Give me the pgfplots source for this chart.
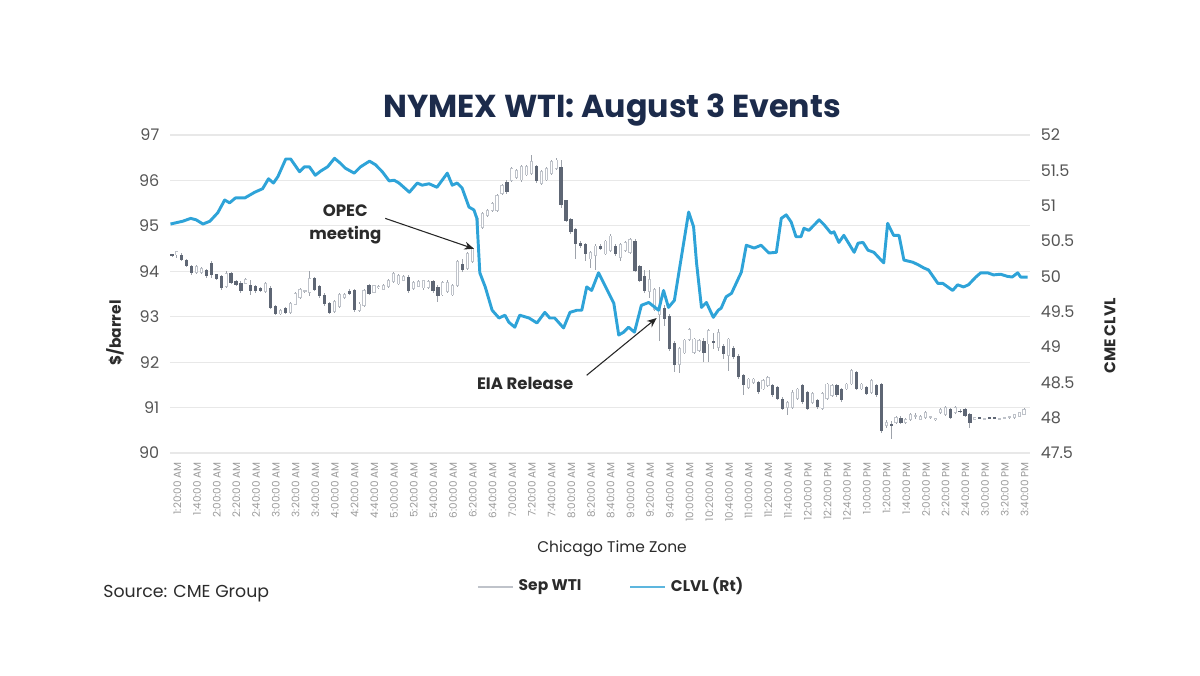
\documentclass[border=0pt]{standalone}
\usepackage{fontspec}
\setmainfont{Poppins}
\usepackage{pgfplots}
\pgfplotsset{compat=1.18}
\usepackage{pgfplotstable}
\usetikzlibrary{arrows.meta}

\definecolor{gridc}{HTML}{E8E8E8}
\definecolor{blueline}{HTML}{2EA3D8}
\definecolor{legblue}{HTML}{5DB6DE}
\definecolor{darkc}{HTML}{5E6674}
\definecolor{lightc}{HTML}{BFC3CA}
\definecolor{wickc}{HTML}{9EA3AB}
\definecolor{titlec}{HTML}{1C2B4B}
\definecolor{tickc}{HTML}{555555}
\definecolor{xtickc}{HTML}{9A9A9A}
\definecolor{textc}{HTML}{2B2B2B}

\pgfplotstableread{
n o h l c
0 94.37 94.38 94.32 94.33
1 94.36 94.45 94.29 94.43
2 94.36 94.40 94.22 94.24
3 94.24 94.27 94.10 94.12
4 94.12 94.14 93.93 93.96
5 93.97 94.13 93.95 94.10
6 93.97 94.10 93.94 94.07
7 94.02 94.05 93.86 93.89
8 94.18 94.22 93.85 93.93
9 93.93 93.95 93.80 93.83
10 93.89 93.92 93.60 93.64
11 93.67 94.00 93.63 93.96
12 93.96 93.98 93.72 93.74
13 93.78 93.80 93.68 93.71
14 93.74 93.78 93.52 93.56
15 93.74 93.85 93.72 93.82
16 93.71 93.82 93.49 93.56
17 93.67 93.69 93.53 93.56
18 93.63 93.66 93.54 93.56
19 93.56 93.76 93.53 93.74
20 93.64 93.68 93.18 93.20
21 93.23 93.25 93.03 93.05
22 93.06 93.17 93.04 93.14
23 93.20 93.22 93.05 93.08
24 93.09 93.33 93.06 93.30
25 93.27 93.55 93.25 93.52
26 93.42 93.64 93.40 93.60
27 93.56 93.60 93.53 93.57
28 93.53 94.00 93.45 93.85
29 93.85 93.88 93.57 93.60
30 93.67 93.70 93.42 93.45
31 93.49 93.52 93.24 93.27
32 93.31 93.33 93.06 93.09
33 93.12 93.36 93.09 93.34
34 93.23 93.52 93.20 93.49
35 93.42 93.52 93.40 93.49
36 93.56 93.60 93.47 93.50
37 93.58 93.62 93.10 93.14
38 93.14 93.32 93.10 93.28
39 93.25 93.62 93.22 93.58
40 93.69 93.72 93.48 93.51
41 93.54 93.71 93.52 93.68
42 93.64 93.69 93.62 93.67
43 93.60 93.73 93.58 93.69
44 93.66 93.83 93.64 93.80
45 93.77 93.98 93.75 93.95
46 93.72 93.95 93.69 93.90
47 93.80 93.92 93.78 93.89
48 93.88 93.92 93.53 93.56
49 93.62 93.79 93.60 93.76
50 93.67 93.80 93.65 93.77
51 93.63 93.82 93.60 93.80
52 93.64 93.80 93.62 93.77
53 93.79 93.82 93.53 93.56
54 93.66 93.69 93.33 93.45
55 93.48 93.79 93.45 93.76
56 93.55 93.80 93.52 93.76
57 93.48 93.72 93.45 93.69
58 93.69 94.24 93.66 94.21
59 94.17 94.28 93.99 94.02
60 94.06 94.43 94.03 94.39
61 94.21 94.53 94.18 94.50
62 94.90 95.20 94.85 95.16
63 94.97 95.30 94.94 95.27
64 95.23 95.37 95.20 95.34
65 95.34 95.52 95.31 95.49
66 95.34 95.70 95.30 95.67
67 95.71 95.93 95.68 95.89
68 95.96 96.00 95.70 95.74
69 96.00 96.30 95.96 96.26
70 96.07 96.25 96.04 96.22
71 96.01 96.35 95.97 96.31
72 96.12 96.34 96.10 96.31
73 96.16 96.56 96.12 96.42
74 96.31 96.34 95.95 95.98
75 95.94 96.23 95.91 96.20
76 96.01 96.30 95.98 96.27
77 96.16 96.45 96.13 96.42
78 96.27 96.50 96.24 96.45
79 96.30 96.45 95.40 95.45
80 95.56 95.58 95.08 95.11
81 95.15 95.18 94.83 94.86
82 94.93 94.96 94.27 94.60
83 94.63 94.66 94.52 94.56
84 94.60 94.63 94.23 94.38
85 94.27 94.45 94.08 94.41
86 94.34 94.60 94.04 94.56
87 94.56 94.60 94.46 94.50
88 94.38 94.70 94.35 94.67
89 94.45 94.82 94.42 94.78
90 94.56 94.60 94.34 94.38
91 94.30 94.63 94.22 94.60
92 94.45 94.66 94.42 94.63
93 94.41 94.74 94.38 94.71
94 94.67 94.72 93.98 94.01
95 94.12 94.15 93.76 93.79
96 93.90 94.04 93.52 93.56
97 93.56 94.04 93.42 93.82
98 93.16 93.64 93.13 93.60
99 93.05 93.65 92.46 93.20
100 93.20 93.25 92.79 92.94
101 93.01 93.05 92.25 92.30
102 92.42 92.46 91.79 91.94
103 91.94 92.34 91.76 92.31
104 92.20 92.52 92.17 92.49
105 92.49 92.75 92.46 92.72
106 92.21 92.54 92.18 92.51
107 92.25 92.50 92.22 92.47
108 92.47 92.54 92.00 92.21
109 92.40 92.72 92.00 92.69
110 92.47 92.65 92.29 92.43
111 92.32 92.72 92.25 92.65
112 92.36 92.40 92.07 92.18
113 92.14 92.54 91.81 92.51
114 92.32 92.35 92.08 92.11
115 92.14 92.17 91.64 91.67
116 91.71 91.74 91.27 91.49
117 91.45 91.66 91.42 91.63
118 91.56 91.66 91.53 91.63
119 91.56 91.59 91.31 91.34
120 91.41 91.63 91.38 91.60
121 91.49 91.70 91.46 91.67
122 91.49 91.52 91.24 91.27
123 91.45 91.48 91.17 91.20
124 91.20 91.23 90.94 90.98
125 91.01 91.15 90.83 91.12
126 91.01 91.38 90.98 91.34
127 91.20 91.44 91.17 91.41
128 91.49 91.52 91.09 91.12
129 91.34 91.37 90.95 90.98
130 91.12 91.34 91.09 91.31
131 91.16 91.19 90.98 91.01
132 90.98 91.34 90.95 91.31
133 91.20 91.55 91.17 91.52
134 91.27 91.52 91.24 91.49
135 91.49 91.52 91.24 91.27
136 91.41 91.44 91.13 91.16
137 91.41 91.55 91.38 91.52
138 91.52 91.84 91.49 91.81
139 91.78 91.81 91.38 91.41
140 91.41 91.55 91.38 91.52
141 91.45 91.48 91.28 91.31
142 91.34 91.63 91.31 91.60
143 91.49 91.52 91.24 91.27
144 91.52 91.55 90.45 90.48
145 90.60 90.72 90.55 90.67
146 90.63 90.70 90.30 90.60
147 90.67 90.82 90.64 90.78
148 90.78 90.82 90.64 90.67
149 90.67 90.78 90.64 90.74
150 90.74 90.88 90.71 90.85
151 90.81 90.89 90.74 90.82
152 90.74 90.84 90.72 90.81
153 90.78 90.92 90.75 90.89
154 90.78 90.82 90.75 90.79
155 90.73 90.78 90.71 90.76
156 90.89 90.99 90.86 90.96
157 90.85 91.03 90.82 91.00
158 90.96 90.99 90.75 90.78
159 90.89 91.03 90.86 91.00
160 90.93 90.96 90.87 90.90
161 90.96 90.99 90.79 90.82
162 90.85 90.88 90.56 90.67
163 90.74 90.80 90.72 90.78
164 90.78 90.80 90.74 90.77
165 90.74 90.77 90.72 90.75
166 90.78 90.80 90.75 90.77
167 90.78 90.80 90.74 90.76
168 90.74 90.77 90.72 90.75
169 90.77 90.80 90.75 90.78
170 90.78 90.81 90.76 90.79
171 90.78 90.87 90.76 90.85
172 90.81 90.91 90.79 90.89
173 90.85 91.00 90.83 90.96
}\candles

\pgfplotstableread{
n v
-0.3 50.74
2.2 50.78
3.8 50.82
4.9 50.80
6.3 50.74
7.7 50.78
9.3 50.90
10.7 51.08
11.7 51.04
12.9 51.11
14.8 51.11
15.8 51.15
16.8 51.19
18.4 51.24
19.6 51.38
20.6 51.32
21.5 51.41
23.1 51.66
24.1 51.66
25.9 51.48
26.9 51.55
27.9 51.55
29.1 51.43
30.2 51.49
31.6 51.55
33.0 51.67
34.2 51.60
35.2 51.53
37.0 51.46
38.3 51.55
40.1 51.63
41.3 51.58
42.7 51.48
44.1 51.35
45.1 51.36
46.1 51.32
48.2 51.19
49.8 51.32
50.8 51.29
52.2 51.31
53.8 51.26
55.9 51.46
56.9 51.29
57.9 51.32
58.9 51.25
60.3 50.98
61.3 50.94
61.9 50.82
62.5 50.05
63.6 49.85
65.0 49.52
66.4 49.41
67.6 49.45
68.4 49.35
69.6 49.28
70.6 49.45
72.5 49.41
74.1 49.34
75.7 49.49
76.7 49.41
77.7 49.41
79.5 49.27
80.8 49.49
82.2 49.52
83.2 49.52
84.2 49.85
85.2 49.80
86.6 50.05
88.7 49.76
89.7 49.62
90.7 49.17
91.7 49.21
92.7 49.28
93.9 49.21
95.3 49.59
96.8 49.63
98.8 49.52
99.8 49.80
100.8 49.56
102.0 49.66
104.9 50.91
105.9 50.70
106.5 50.19
107.5 49.56
108.5 49.63
109.9 49.42
110.9 49.52
111.5 49.55
112.5 49.71
113.6 49.76
115.6 50.06
116.6 50.44
118.2 50.40
119.6 50.44
121.2 50.33
122.7 50.34
123.7 50.82
124.7 50.87
125.7 50.77
126.7 50.56
127.7 50.56
128.3 50.68
129.3 50.65
131.4 50.80
132.4 50.73
133.8 50.61
134.4 50.63
135.4 50.48
136.4 50.58
138.5 50.34
139.3 50.47
140.3 50.48
141.3 50.37
142.5 50.34
144.5 50.19
145.3 50.75
146.5 50.58
147.6 50.58
148.6 50.23
150.4 50.20
151.6 50.16
152.6 50.12
153.6 50.09
155.5 49.90
156.5 49.90
158.5 49.80
159.5 49.88
160.7 49.85
161.7 49.88
163.2 49.99
164.2 50.05
165.6 50.05
166.8 50.02
168.2 50.03
169.6 50.00
170.6 49.99
171.7 50.05
172.3 49.99
173.7 49.99
}\clvl

\begin{document}
\begin{tikzpicture}[x=1pt,y=1pt]
\useasboundingbox (0,0) rectangle (450,253.125);
\node[font=\bfseries\fontsize{11.9}{14}\selectfont, text=titlec] at (229.5,211.8) {NYMEX WTI: August 3 Events};
\node[anchor=west, font=\fontsize{6.5}{7.5}\selectfont, text=textc, inner sep=0pt] at (38.6,30.4) {Source: CME Group};

\begin{axis}[
  at={(63.75pt,83.25pt)}, anchor=south west,
  width=322.5pt, height=119.25pt, scale only axis,
  xmin=-0.4, xmax=174.2, ymin=90, ymax=97,
  axis lines*=left, axis line style={draw=none},
  major tick length=0pt,
  ytick={90,91,92,93,94,95,96,97},
  ymajorgrids, grid style={draw=gridc, line width=0.45pt},
  /pgf/number format/assume math mode=true,
  yticklabel style={font=\fontsize{6}{7}\selectfont, text=tickc, xshift=-0.5pt},
  xtick={0,4,...,172},
  xticklabels={1:20:00 AM,1:40:00 AM,2:00:00 AM,2:20:00 AM,2:40:00 AM,3:00:00 AM,3:20:00 AM,3:40:00 AM,4:00:00 AM,4:20:00 AM,4:40:00 AM,5:00:00 AM,5:20:00 AM,5:40:00 AM,6:00:00 AM,6:20:00 AM,6:40:00 AM,7:00:00 AM,7:20:00 AM,7:40:00 AM,8:00:00 AM,8:20:00 AM,8:40:00 AM,9:00:00 AM,9:20:00 AM,9:40:00 AM,10:00:00 AM,10:20:00 AM,10:40:00 AM,11:00:00 AM,11:20:00 AM,11:40:00 AM,12:00:00 PM,12:20:00 PM,12:40:00 PM,1:00:00 PM,1:20:00 PM,1:40:00 PM,2:00:00 PM,2:20:00 PM,2:40:00 PM,3:00:00 PM,3:20:00 PM,3:40:00 PM},
  xticklabel style={rotate=90, anchor=east, font=\fontsize{3.9}{4}\selectfont, text=xtickc, yshift=-2pt},
  xlabel={Chicago Time Zone},
  xlabel style={at={(axis description cs:0.514,-0.302)}, anchor=center, font=\fontsize{5.8}{7}\selectfont, text=textc},
  ylabel={\$/barrel},
  ylabel style={at={(axis description cs:-0.064,0.377)}, anchor=center, font=\bfseries\fontsize{5.8}{7}\selectfont, text=textc},
  clip=false,
]
% wicks
\addplot[draw=none, mark=none, forget plot,
  error bars/.cd, y dir=both, y explicit, error mark=none,
  error bar style={draw=wickc, line width=0.35pt}]
  table[x=n, y expr={(\thisrow{h}+\thisrow{l})/2}, y error expr={(\thisrow{h}-\thisrow{l})/2}] {\candles};
% up bodies (outline)
\addplot[draw=none, mark=none, forget plot,
  restrict expr to domain={\thisrow{c}-\thisrow{o}}{0:100},
  error bars/.cd, y dir=both, y explicit, error mark=none,
  error bar style={draw=lightc, line width=1.2pt}]
  table[x=n, y expr={(\thisrow{o}+\thisrow{c})/2}, y error expr={max(abs(\thisrow{c}-\thisrow{o})/2+0.008,0.02)}] {\candles};
% up bodies (hollow inside)
\addplot[draw=none, mark=none, forget plot,
  restrict expr to domain={\thisrow{c}-\thisrow{o}}{0:100},
  error bars/.cd, y dir=both, y explicit, error mark=none,
  error bar style={draw=white, line width=0.5pt}]
  table[x=n, y expr={(\thisrow{o}+\thisrow{c})/2}, y error expr={max(abs(\thisrow{c}-\thisrow{o})/2-0.01,0)}] {\candles};
% down bodies
\addplot[draw=none, mark=none, forget plot,
  restrict expr to domain={\thisrow{o}-\thisrow{c}}{0.0001:100},
  error bars/.cd, y dir=both, y explicit, error mark=none,
  error bar style={draw=darkc, line width=1.2pt}]
  table[x=n, y expr={(\thisrow{o}+\thisrow{c})/2}, y error expr={max(abs(\thisrow{o}-\thisrow{c})/2,0.02)}] {\candles};
\end{axis}

\begin{axis}[
  at={(63.75pt,83.25pt)}, anchor=south west,
  width=322.5pt, height=119.25pt, scale only axis,
  xmin=-0.4, xmax=174.2, ymin=47.5, ymax=52,
  axis y line*=right, axis x line=none, axis line style={draw=none},
  major tick length=0pt,
  ytick={47.5,48,48.5,49,49.5,50,50.5,51,51.5,52},
  /pgf/number format/assume math mode=true,
  yticklabel style={font=\fontsize{6}{7}\selectfont, text=tickc, xshift=0.5pt},
  ylabel={CME CLVL},
  ylabel style={at={(axis description cs:1.093,0.368)}, anchor=center, rotate=0, font=\bfseries\fontsize{5.8}{7}\selectfont, text=textc},
  legend style={at={(axis description cs:0.515,-0.421)}, anchor=center, draw=none, fill=none,
    legend columns=2, font=\bfseries\fontsize{5.8}{7}\selectfont, text=textc,
    /tikz/every even column/.append style={column sep=16pt}},
  legend cell align=left,
  legend image code/.code={\draw[#1] (0pt,0pt) -- (13pt,0pt);},
]
\addlegendimage{color=lightc, line width=0.55pt}
\addlegendentry{Sep WTI}
\addlegendimage{color=legblue, line width=0.55pt}
\addlegendentry{CLVL (Rt)}
\addplot[blueline, line width=1.1pt, line join=round, forget plot] table[x=n, y=v] {\clvl};
\node[font=\bfseries\fontsize{6.2}{8.6}\selectfont, text=textc, align=center] at (axis cs:35.2,50.74) {OPEC\\meeting};
\draw[-{Stealth[length=3.6pt,width=3pt]}, line width=0.4pt, color=black!85] (axis cs:43.3,50.82) -- (axis cs:61.3,50.39);
\node[font=\bfseries\fontsize{6.2}{8}\selectfont, text=textc] at (axis cs:71.7,48.49) {EIA Release};
\draw[-{Stealth[length=3.6pt,width=3pt]}, line width=0.4pt, color=black!85] (axis cs:84.2,48.60) -- (axis cs:98.4,49.41);
\end{axis}
\end{tikzpicture}
\end{document}
